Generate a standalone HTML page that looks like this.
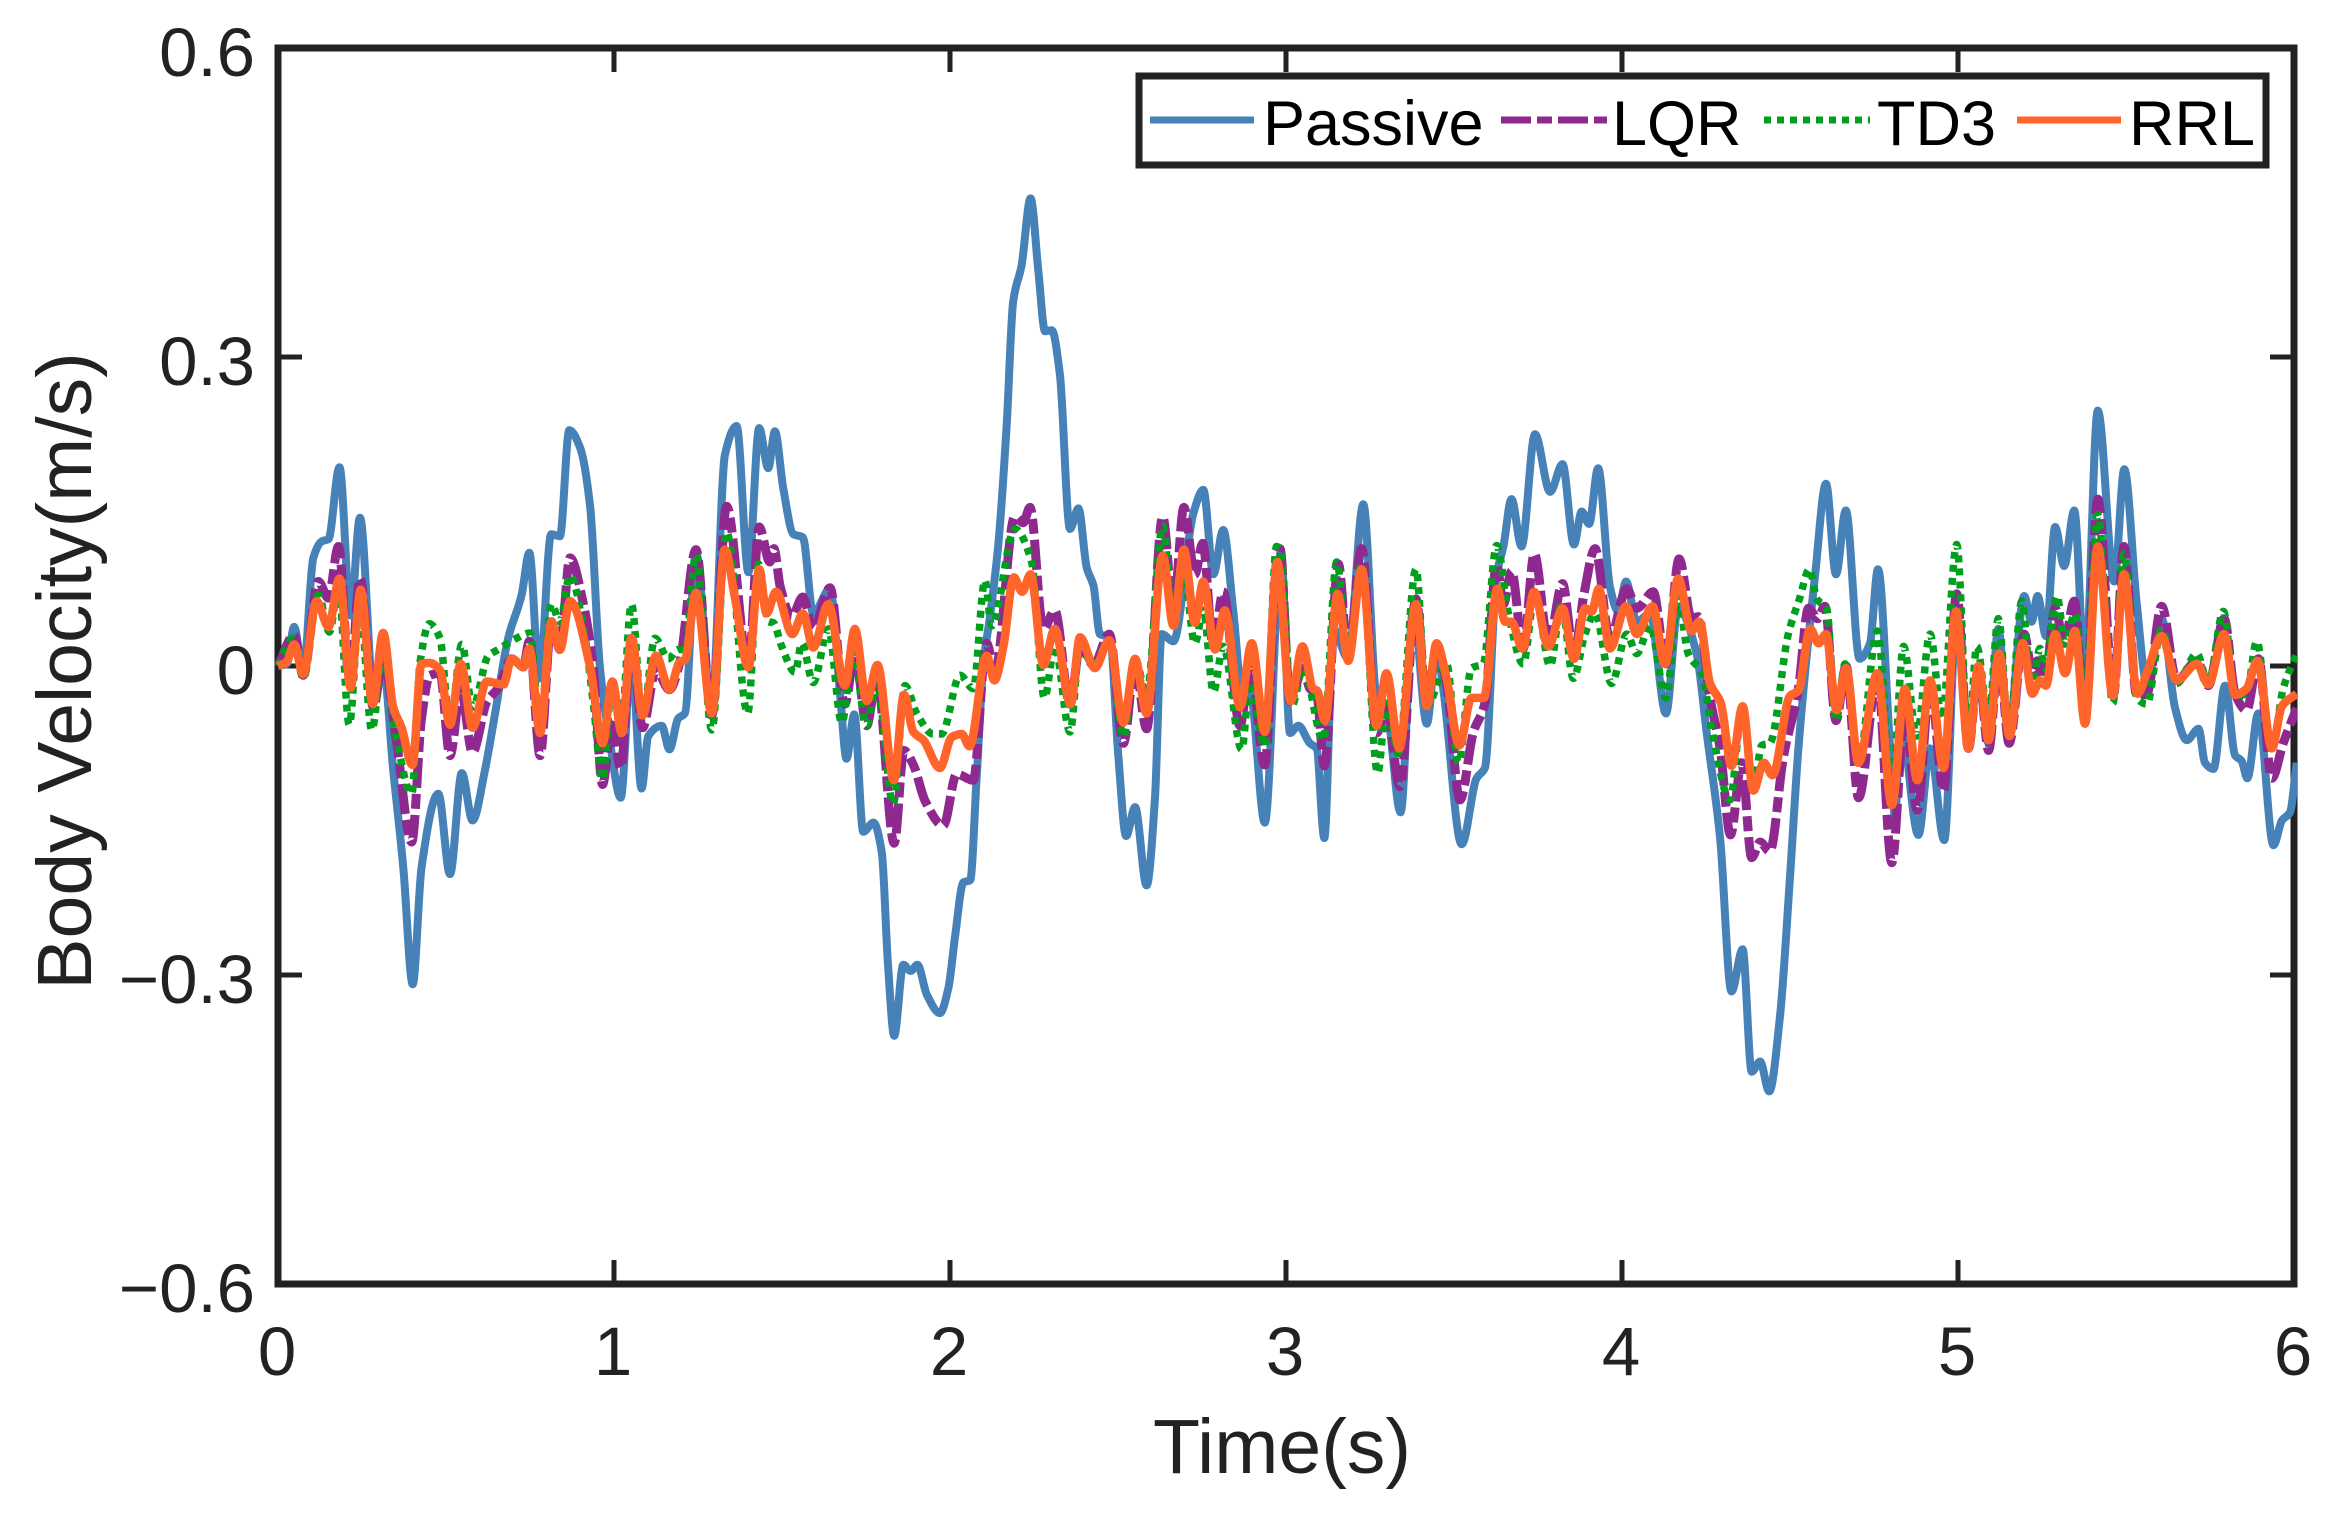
<!DOCTYPE html>
<html lang="en">
<head>
<meta charset="utf-8">
<title>Body Velocity vs Time</title>
<style>
html,body{margin:0;padding:0;background:#fff;}
svg{display:block;}
text{font-family:"Liberation Sans",Arial,sans-serif;fill:#222;}
</style>
</head>
<body>
<svg id="chart" xmlns="http://www.w3.org/2000/svg" width="2339" height="1517" viewBox="0 0 2339 1517">
  <rect x="0" y="0" width="2339" height="1517" fill="#fff"/>
  <defs><clipPath id="plot-clip"><rect x="275" y="45" width="2022" height="1242"/></clipPath></defs>
  <g id="ticks"></g>
  <rect x="278" y="48" width="2016" height="1236" fill="none" stroke="#222" stroke-width="7"/>
  <g id="tick-labels"></g>
  <g id="series" clip-path="url(#plot-clip)"></g>
  <text x="1282" y="1473" font-size="77" text-anchor="middle">Time(s)</text>
  <text transform="translate(91,671) rotate(-90)" font-size="77" text-anchor="middle">Body Velocity(m/s)</text>
  <g>
    <rect x="1139" y="76" width="1127" height="89" fill="#fff" stroke="#222" stroke-width="7"/>
    <line x1="1150" y1="120" x2="1254" y2="120" stroke="#4682b8" stroke-width="7"/>
    <text x="1263" y="145" font-size="63" style="fill:#000">Passive</text>
    <line x1="1501" y1="120" x2="1607" y2="120" stroke="#8f288f" stroke-width="7" stroke-dasharray="30 6 15 6"/>
    <text x="1612" y="145" font-size="63" style="fill:#000">LQR</text>
    <line x1="1764" y1="120" x2="1870" y2="120" stroke="#00a01e" stroke-width="7" stroke-dasharray="7 6"/>
    <text x="1877" y="145" font-size="63" style="fill:#000">TD3</text>
    <line x1="2017" y1="120" x2="2121" y2="120" stroke="#ff652b" stroke-width="7"/>
    <text x="2129" y="145" font-size="63" style="fill:#000">RRL</text>
  </g>
</svg>
<script>
const xTickValues = [0, 1, 2, 3, 4, 5, 6];
const yTickValues = [0.6, 0.3, 0, -0.3, -0.6];
const xTickLabels = ['0', '1', '2', '3', '4', '5', '6'];
const yTickLabels = ['0.6', '0.3', '0', '\u22120.3', '\u22120.6'];

const passiveTimes = [0,.026,.048,.075,.105,.130,.150,.183,.216,.244,.286,.313,.343,.373,.401,.427,.477,.512,.547,.579,.616,.646,.685,.725,.748,.778,.813,.839,.867,.899,.929,.958,.988,1.020,1.052,1.082,1.102,1.142,1.165,1.191,1.211,1.244,1.291,1.330,1.365,1.400,1.432,1.459,1.479,1.504,1.534,1.562,1.593,1.643,1.673,1.692,1.715,1.742,1.772,1.797,1.816,1.834,1.861,1.883,1.903,1.931,1.970,1.995,2.015,2.040,2.060,2.079,2.099,2.119,2.144,2.169,2.188,2.213,2.240,2.263,2.283,2.303,2.327,2.357,2.382,2.407,2.427,2.446,2.476,2.501,2.524,2.551,2.585,2.610,2.630,2.665,2.724,2.754,2.784,2.813,2.843,2.873,2.893,2.937,2.985,3.012,3.037,3.071,3.091,3.114,3.141,3.185,3.230,3.270,3.299,3.341,3.379,3.419,3.448,3.468,3.523,3.567,3.592,3.627,3.647,3.671,3.701,3.741,3.786,3.823,3.857,3.880,3.902,3.929,3.964,3.989,4.012,4.044,4.083,4.131,4.167,4.222,4.252,4.292,4.326,4.359,4.386,4.411,4.438,4.470,4.500,4.525,4.575,4.607,4.637,4.666,4.707,4.738,4.762,4.798,4.813,4.828,4.882,4.917,4.959,4.996,5.031,5.061,5.091,5.120,5.150,5.197,5.219,5.237,5.262,5.289,5.316,5.346,5.378,5.416,5.465,5.495,5.532,5.562,5.606,5.646,5.681,5.716,5.735,5.760,5.795,5.825,5.844,5.861,5.894,5.939,5.964,5.988,6.008];
const passiveValues = [0,.002,.038,-.007,.105,.121,.123,.193,.049,.144,-.032,-.001,-.101,-.196,-.309,-.196,-.124,-.202,-.104,-.150,-.101,-.046,.027,.069,.110,-.012,.128,.126,.229,.212,.155,-.001,-.074,-.128,.010,-.119,-.068,-.058,-.081,-.051,-.046,.110,-.040,.205,.233,.091,.231,.192,.228,.172,.128,.125,.051,.075,-.028,-.090,-.047,-.161,-.152,-.181,-.293,-.359,-.290,-.296,-.290,-.319,-.337,-.313,-.263,-.210,-.208,-.111,.001,.048,.119,.236,.354,.389,.454,.383,.325,.326,.283,.133,.153,.095,.078,.031,.028,-.087,-.165,-.137,-.213,-.128,.031,.024,.148,.171,.089,.132,.054,-.037,-.025,-.152,.110,-.065,-.058,-.075,-.080,-.167,.036,.007,.157,-.031,-.041,-.142,.056,-.056,.017,-.022,-.173,-.109,-.099,.089,.116,.162,.116,.225,.169,.196,.118,.150,.138,.192,.077,.053,.082,.043,.051,-.046,.056,.012,-.065,-.167,-.316,-.275,-.394,-.384,-.413,-.341,-.205,-.080,.089,.177,.089,.151,.007,.022,.094,-.080,-.147,-.051,-.164,-.080,-.169,.051,-.075,-.002,-.075,.036,-.065,.068,.043,.068,.029,.135,.097,.151,-.007,.248,.082,.191,.060,-.017,.046,-.041,-.072,-.061,-.094,-.100,-.019,-.087,-.092,-.109,-.046,-.174,-.150,-.142,-.094];

const lqrTimes = [0,.048,.075,.120,.150,.180,.214,.244,.284,.313,.353,.398,.427,.452,.482,.512,.544,.579,.621,.656,.695,.730,.748,.780,.814,.839,.869,.909,.938,.966,.993,1.020,1.052,1.085,1.125,1.165,1.196,1.244,1.291,1.335,1.400,1.432,1.464,1.476,1.494,1.529,1.562,1.593,1.643,1.687,1.717,1.752,1.782,1.834,1.863,1.891,1.926,1.980,2.020,2.069,2.109,2.134,2.193,2.218,2.238,2.278,2.312,2.357,2.387,2.427,2.474,2.516,2.551,2.585,2.633,2.665,2.696,2.729,2.752,2.784,2.813,2.863,2.893,2.937,2.972,2.982,3.012,3.051,3.071,3.091,3.114,3.156,3.185,3.225,3.270,3.299,3.339,3.387,3.419,3.448,3.478,3.518,3.557,3.592,3.627,3.647,3.671,3.706,3.739,3.781,3.823,3.857,3.887,3.920,3.964,4.014,4.044,4.093,4.131,4.170,4.207,4.227,4.262,4.292,4.323,4.356,4.386,4.411,4.440,4.480,4.525,4.555,4.582,4.604,4.637,4.667,4.704,4.760,4.803,4.842,4.879,4.917,4.957,4.996,5.031,5.061,5.091,5.122,5.152,5.197,5.221,5.236,5.259,5.289,5.316,5.346,5.378,5.416,5.463,5.494,5.532,5.562,5.606,5.651,5.711,5.745,5.792,5.825,5.859,5.894,5.934,5.968,6.008];
const lqrValues = [0,.030,-.009,.082,.066,.116,-.018,.085,-.040,.007,-.074,-.171,-.051,-.009,-.007,-.087,-.023,-.084,-.035,-.021,.007,-.001,.024,-.087,.043,.016,.105,.060,-.001,-.115,-.057,-.099,.027,-.060,-.004,-.023,.004,.113,-.048,.155,-.001,.135,.101,.114,.078,.048,.067,.036,.076,-.037,.013,-.058,-.011,-.172,-.082,-.096,-.131,-.155,-.105,-.111,.022,-.005,.145,.139,.154,.036,.054,-.037,.019,.001,.031,-.075,.001,-.061,.145,.054,.154,.089,.119,.019,.072,-.058,.001,-.096,.101,.114,-.034,-.002,-.022,-.027,-.097,.099,.007,.114,-.065,-.041,-.117,.065,-.036,.017,-.017,-.130,-.065,-.036,.099,.060,.092,.017,.109,.022,.080,.012,.070,.114,.027,.075,.056,.072,.002,.104,.046,.048,-.031,-.080,-.164,-.094,-.186,-.171,-.180,-.089,-.022,.056,.046,.058,-.053,0,-.128,-.012,-.191,-.046,-.140,-.017,-.121,.070,-.080,-.002,-.082,.012,-.075,.031,-.007,.005,-.012,.056,.022,.063,-.053,.162,-.027,.116,-.029,-.027,.058,-.014,.005,-.019,.046,-.027,-.043,.007,-.109,-.075,-.041];

const td3Times = [0,.046,.075,.120,.153,.180,.212,.244,.279,.313,.353,.398,.423,.450,.482,.512,.547,.579,.626,.656,.710,.750,.780,.814,.839,.869,.909,.938,.966,.995,1.020,1.052,1.085,1.122,1.162,1.191,1.211,1.244,1.291,1.335,1.398,1.430,1.460,1.474,1.499,1.539,1.559,1.593,1.638,1.678,1.712,1.752,1.782,1.831,1.866,1.901,1.950,1.975,2.030,2.069,2.104,2.124,2.193,2.243,2.281,2.312,2.357,2.387,2.427,2.474,2.516,2.551,2.585,2.633,2.665,2.696,2.729,2.754,2.784,2.813,2.868,2.893,2.937,2.972,2.982,3.017,3.051,3.111,3.151,3.185,3.225,3.273,3.299,3.334,3.387,3.419,3.478,3.513,3.552,3.587,3.627,3.662,3.706,3.741,3.786,3.820,3.855,3.890,3.920,3.969,4.014,4.044,4.083,4.131,4.167,4.197,4.237,4.272,4.321,4.359,4.391,4.416,4.440,4.495,4.528,4.558,4.580,4.609,4.637,4.664,4.704,4.760,4.803,4.838,4.877,4.917,4.952,4.996,5.031,5.056,5.091,5.120,5.152,5.190,5.219,5.244,5.259,5.294,5.319,5.348,5.378,5.416,5.461,5.494,5.532,5.562,5.606,5.651,5.711,5.745,5.790,5.825,5.859,5.889,5.934,5.968,6.008];
const td3Values = [0,.027,-.012,.069,.033,.077,-.057,.060,-.062,.013,-.071,-.124,.004,.041,.027,-.057,.021,-.040,.010,.016,.027,.032,-.062,.060,.043,.088,.038,-.035,-.110,-.015,-.062,.060,-.051,.027,.007,.016,.016,.108,-.062,.130,-.046,.099,.043,.042,.019,-.006,.022,-.016,.036,-.055,.013,-.058,-.016,-.134,-.019,-.046,-.066,-.066,-.009,-.022,.083,.039,.133,.101,-.031,.019,-.064,.019,.001,.025,-.069,.007,-.028,.136,.048,.089,.022,.054,-.025,.019,-.081,-.016,-.078,.116,.114,-.039,-.002,-.072,.101,.012,.099,-.104,-.036,-.085,.094,-.039,.002,-.094,-.002,.002,.117,.051,.002,.070,0,.060,-.012,.031,.051,-.017,.031,.012,.039,-.031,.065,.012,-.007,-.070,-.130,-.039,-.118,-.077,-.075,.031,.065,.094,.065,.056,-.053,.002,-.094,.034,-.123,.019,-.068,.031,-.051,.118,-.075,.019,-.051,.046,-.065,.063,-.022,.017,-.002,.068,.022,.051,-.036,.147,-.036,.109,-.031,-.037,.036,-.017,.012,-.017,.053,-.029,-.027,.024,-.080,-.022,.012];

const rrlTimes = [0,.026,.048,.075,.115,.150,.183,.216,.246,.282,.313,.343,.368,.400,.427,.450,.482,.512,.544,.579,.621,.671,.695,.730,.748,.780,.814,.839,.869,.929,.966,.995,1.023,1.052,1.085,1.125,1.165,1.196,1.211,1.244,1.291,1.330,1.360,1.400,1.432,1.454,1.482,1.531,1.562,1.593,1.638,1.687,1.717,1.752,1.784,1.833,1.863,1.891,1.921,1.970,2.005,2.035,2.058,2.109,2.132,2.159,2.190,2.215,2.240,2.278,2.312,2.359,2.387,2.431,2.474,2.516,2.551,2.585,2.633,2.665,2.696,2.729,2.754,2.789,2.818,2.863,2.898,2.937,2.974,3.014,3.049,3.081,3.093,3.116,3.154,3.185,3.225,3.270,3.299,3.337,3.387,3.419,3.448,3.478,3.516,3.552,3.589,3.629,3.652,3.671,3.704,3.738,3.781,3.823,3.857,3.890,3.910,3.931,3.964,4.012,4.044,4.091,4.128,4.167,4.207,4.230,4.262,4.294,4.326,4.359,4.391,4.422,4.448,4.500,4.525,4.560,4.585,4.607,4.639,4.667,4.704,4.760,4.803,4.842,4.879,4.917,4.957,4.994,5.031,5.061,5.091,5.122,5.153,5.193,5.221,5.244,5.262,5.289,5.319,5.348,5.378,5.416,5.461,5.494,5.534,5.562,5.606,5.651,5.711,5.745,5.792,5.825,5.859,5.891,5.934,5.964,6.008];
const rrlValues = [0,.004,.021,-.008,.063,.038,.085,-.021,.074,-.037,.032,-.040,-.060,-.096,.002,.003,-.004,-.057,.002,-.060,-.015,-.018,.007,-.001,.017,-.065,.043,.016,.063,-.001,-.075,-.015,-.065,.027,-.048,.010,-.023,.004,.006,.071,-.046,.113,.066,-.001,.094,.051,.072,.031,.051,.018,.060,-.019,.036,-.034,.001,-.111,-.028,-.064,-.072,-.099,-.069,-.066,-.078,.010,-.014,.019,.086,.072,.089,.001,.036,-.037,.028,-.002,.025,-.055,.007,-.046,.107,.039,.113,.042,.082,.016,.054,-.040,.022,-.064,.101,-.034,.019,-.022,-.024,-.053,.070,.005,.094,-.058,-.007,-.080,.060,-.039,.022,-.012,-.077,-.031,-.031,.075,.043,.043,.017,.072,.019,.056,.007,.056,.053,.075,.017,.058,.031,.058,.002,.085,.034,.043,-.017,-.036,-.097,-.039,-.121,-.094,-.106,-.029,-.024,.036,.022,.031,-.043,-.002,-.094,-.007,-.135,-.022,-.111,-.014,-.099,.053,-.080,0,-.072,.012,-.068,.022,-.027,-.014,-.019,.031,-.007,.034,-.056,.116,-.029,.089,-.027,-.007,.029,-.014,.002,-.018,.031,-.028,-.022,.005,-.080,-.039,-.027];

const NS = 'http://www.w3.org/2000/svg';
const xScale = t => 278 + t * 336;
const yScale = v => 666 - v * 1030;

// Monotone cubic path through the read points, so peaks stay at their read values.
function curvePath(xs, ys) {
  const n = Math.min(xs.length, ys.length);
  const px = [], py = [], d = [], m = [];
  for (let i = 0; i < n; i++) { px.push(xScale(xs[i])); py.push(yScale(ys[i])); }
  for (let i = 0; i < n - 1; i++) d.push((py[i + 1] - py[i]) / ((px[i + 1] - px[i]) || 1));
  m[0] = d[0]; m[n - 1] = d[n - 2];
  for (let i = 1; i < n - 1; i++) {
    if (d[i - 1] * d[i] <= 0) { m[i] = 0; continue; }
    const h0 = px[i] - px[i - 1], h1 = px[i + 1] - px[i];
    const w1 = 2 * h1 + h0, w2 = h1 + 2 * h0;
    m[i] = (w1 + w2) / (w1 / d[i - 1] + w2 / d[i]);
  }
  let path = 'M' + px[0].toFixed(1) + ' ' + py[0].toFixed(1);
  for (let i = 0; i < n - 1; i++) {
    const h = (px[i + 1] - px[i]) / 3;
    path += 'C' + (px[i] + h).toFixed(1) + ' ' + (py[i] + m[i] * h).toFixed(1) + ' ' +
      (px[i + 1] - h).toFixed(1) + ' ' + (py[i + 1] - m[i + 1] * h).toFixed(1) + ' ' +
      px[i + 1].toFixed(1) + ' ' + py[i + 1].toFixed(1);
  }
  return path;
}

const seriesGroup = document.getElementById('series');
function addSeries(name, xs, ys, color, width, dash) {
  const p = document.createElementNS(NS, 'path');
  
  
  p.setAttribute('d', curvePath(xs, ys));
  p.setAttribute('fill', 'none');
  p.setAttribute('stroke', color);
  p.setAttribute('stroke-width', width);
  p.setAttribute('stroke-linejoin', 'round');
  if (dash) p.setAttribute('stroke-dasharray', dash);
  seriesGroup.appendChild(p);
}
addSeries('series-passive', passiveTimes, passiveValues, '#4682b8', 8, null);
addSeries('series-lqr', lqrTimes, lqrValues, '#8f288f', 9, '30 6 15 6');
addSeries('series-td3', td3Times, td3Values, '#00a01e', 7.5, '7 6');
addSeries('series-rrl', rrlTimes, rrlValues, '#ff652b', 8.5, null);

const tickGroup = document.getElementById('ticks');
function addTick(x1, y1, x2, y2) {
  const l = document.createElementNS(NS, 'line');
  
  
  l.setAttribute('x1', x1); l.setAttribute('y1', y1);
  l.setAttribute('x2', x2); l.setAttribute('y2', y2);
  l.setAttribute('stroke', '#222');
  l.setAttribute('stroke-width', '5');
  tickGroup.appendChild(l);
}
const labelGroup = document.getElementById('tick-labels');
function addLabel(name, x, y, anchor, str) {
  const t = document.createElementNS(NS, 'text');
  
  
  t.setAttribute('x', x); t.setAttribute('y', y);
  t.setAttribute('font-size', '69');
  t.setAttribute('text-anchor', anchor);
  t.textContent = str;
  labelGroup.appendChild(t);
}
xTickValues.forEach((v, i) => {
  const x = xScale(v);
  addTick(x, 1284, x, 1260);
  addTick(x, 48, x, 72);
  addLabel('x-tick-label', x - 1, 1375, 'middle', xTickLabels[i]);
});
yTickValues.forEach((v, i) => {
  const y = yScale(v);
  addTick(278, y, 302, y);
  addTick(2294, y, 2270, y);
  addLabel('y-tick-label', 255, y + 28, 'end', yTickLabels[i]);
});
</script>
</body>
</html>
